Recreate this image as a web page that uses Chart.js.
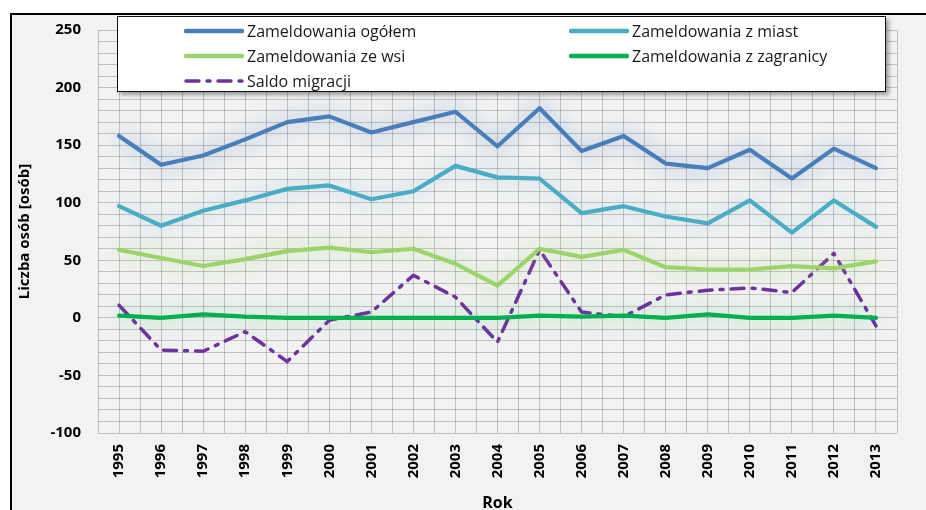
<!DOCTYPE html>
<html>
<head>
<meta charset="utf-8">
<script src="https://cdn.jsdelivr.net/npm/chart.js@4"></script>
<style>
  html,body{margin:0;padding:0;background:#fff;width:926px;height:510px;overflow:hidden}
  #frame{position:absolute;left:10px;top:13px;width:930px;height:520px;border:2px solid #000;background:#f2f2f2}
  #wrap{position:absolute;left:0;top:0;width:926px;height:510px}
  #legend{position:absolute;left:117px;top:16px;width:767px;height:74px;background:#fff;border:1.5px solid #111;
    box-shadow:3px 3px 4px rgba(0,0,0,0.35);font-family:"Open Sans",sans-serif;font-size:16px;color:#1a1a1a}
  .leg-item{position:absolute;height:22px;display:flex;align-items:center;white-space:nowrap}
  .leg-item svg{margin-right:3px}
</style>
</head>
<body>
<div id="frame"></div>
<div id="wrap"><canvas id="chart" width="926" height="510"></canvas></div>
<div id="legend"></div>
<script>
/* Migracje — zameldowania 1995-2013 */

var YEARS=[1995,1996,1997,1998,1999,2000,2001,2002,2003,2004,2005,2006,2007,2008,2009,2010,2011,2012,2013];
var OGOLEM  =[158,133,141,155,170,175,161,170,179,149,182,145,158,134,130,146,121,147,130];
var MIAST   =[97,80,93,102,112,115,103,110,132,122,121,91,97,88,82,102,74,102,79];
var WIES    =[59,52,45,51,58,61,57,60,47,28,60,53,59,44,42,42,45,43,49];
var ZAGRANICA=[2,0,3,1,0,0,0,0,0,0,2,1,2,0,3,0,0,2,0];
var SALDO   =[11,-28,-29,-12,-38,-2,5,37,18,-21,59,5,1,20,24,26,22,56,-7];

var SERIES=[
  {label:'Zameldowania ogółem',data:OGOLEM,color:'#4a7ebb',glow:'rgba(74,126,187,0.75)'},
  {label:'Zameldowania z miast',data:MIAST,color:'#4bacc6',glow:'rgba(75,172,198,0.45)'},
  {label:'Zameldowania ze wsi',data:WIES,color:'#9bd46a',glow:'rgba(155,212,106,0.75)'},
  {label:'Zameldowania z zagranicy',data:ZAGRANICA,color:'#00b050',glow:'rgba(0,176,80,0.5)'},
  {label:'Saldo migracji',data:SALDO,color:'#7030a0',glow:null,dash:[13,8,3,8]}
];

var FONT='"Open Sans", sans-serif';

// soft glow behind lines
var glowPlugin={
  id:'glow',
  beforeDatasetDraw:function(chart,args){
    var s=SERIES[args.index];
    chart.ctx.save();
    if(s.glow){chart.ctx.shadowColor=s.glow;chart.ctx.shadowBlur=22;}
  },
  afterDatasetDraw:function(chart){ chart.ctx.restore(); }
};

var ctx=document.getElementById('chart');
new Chart(ctx,{
  type:'line',
  data:{
    datasets:SERIES.map(function(s){
      return{
        label:s.label,
        data:s.data.map(function(v,i){return{x:YEARS[i],y:v};}),
        borderColor:s.color,backgroundColor:s.color,
        borderWidth:s.dash?3.5:4.2,borderDash:s.dash||[],
        borderCapStyle:'round',borderJoinStyle:'round',
        pointRadius:0,tension:0,fill:false
      };
    })
  },
  options:{
    responsive:false,animation:false,
    layout:{padding:{left:12,right:12,top:30,bottom:0}},
    plugins:{legend:{display:false},tooltip:{enabled:false}},
    scales:{
      x:{
        type:'linear',min:1994.5,max:2013.5,
        afterFit:function(sc){sc.height=77;},
        grid:{color:'rgba(0,0,0,0.2)',lineWidth:1,drawTicks:false},
        border:{display:false},
        ticks:{stepSize:0.5,autoSkip:false,minRotation:90,maxRotation:90,padding:11,color:'#000',
          font:{family:FONT,size:15,weight:'bold'},
          callback:function(v){return v%1===0?String(v):'';}},
        title:{display:true,text:'Rok',color:'#000',font:{family:FONT,size:16,weight:'bold'},padding:{top:0,bottom:-3}}
      },
      y:{
        min:-100,max:250,
        afterFit:function(sc){sc.width=86;},
        grid:{color:'rgba(0,0,0,0.2)',lineWidth:1,drawTicks:false},
        border:{display:false},
        ticks:{stepSize:10,autoSkip:false,padding:17,color:'#000',
          font:{family:FONT,size:15,weight:'bold'},
          callback:function(v){return v%50===0?String(v):'';}},
        title:{display:true,text:'Liczba osób [osób]',color:'#000',font:{family:FONT,size:15,weight:'bold'},padding:{top:4,bottom:0}}
      }
    }
  },
  plugins:[glowPlugin]
});

// legend, two columns
var legEl=document.getElementById('legend');
var cols=[66,451];
SERIES.forEach(function(s,i){
  var item=document.createElement('div');
  item.className='leg-item';
  item.style.left=cols[i%2]+'px';
  item.style.top=(3+Math.floor(i/2)*25)+'px';
  var dash=s.dash?' stroke-dasharray="13 8 3 8"':'';
  item.innerHTML='<svg width="60" height="8"><line x1="2" y1="4" x2="58" y2="4" stroke="'+s.color+'" stroke-width="'+(s.dash?3.5:4.5)+'" stroke-linecap="round"'+dash+'/></svg>'+
    '<span>'+s.label+'</span>';
  legEl.appendChild(item);
});
</script>
</body>
</html>
